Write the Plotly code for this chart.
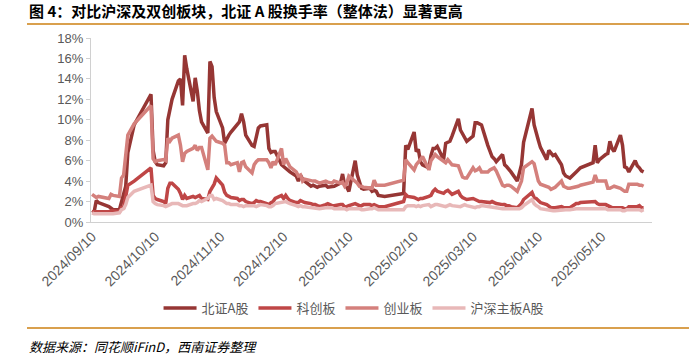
import plotly.graph_objects as go

# ---- trading days (month -> day numbers) ----
sep_days = [10, 11, 12, 13, 18, 19, 20, 23, 24, 25, 26, 27, 30]
oct_days = [8, 9, 10, 11, 14, 15, 16, 17, 18, 21, 22, 23, 24, 25, 28, 29, 30, 31]
nov_days = [1, 4, 5, 6, 7, 8, 11, 12, 13, 14, 15, 18, 19, 20, 21, 22, 25, 26, 27, 28, 29]
dec_days = [2, 3, 4, 5, 6, 9, 10, 11, 12, 13, 16, 17, 18, 19, 20, 23, 24, 25, 26, 27, 30, 31]
jan_days = [2, 3, 6, 7, 8, 9, 10, 13, 14, 15, 16, 17, 20, 21, 22, 23, 24, 27]
feb_days = [5, 6, 7, 10, 11, 12, 13, 14, 17, 18, 19, 20, 21, 24, 25, 26, 27, 28]
mar_days = [3, 4, 5, 6, 7, 10, 11, 12, 13, 14, 17, 18, 19, 20, 21, 24, 25, 26, 27, 28, 31]
apr_days = [1, 2, 3, 7, 8, 9, 10, 11, 14, 15, 16, 17, 18, 21, 22, 23, 24, 25, 28, 29, 30]
may_days = [6, 7, 8, 9, 12, 13, 14, 15, 16, 19, 20, 21, 22, 23, 26, 27, 28, 29, 30]

months = [("2024-09", sep_days), ("2024-10", oct_days), ("2024-11", nov_days),
          ("2024-12", dec_days), ("2025-01", jan_days), ("2025-02", feb_days),
          ("2025-03", mar_days), ("2025-04", apr_days), ("2025-05", may_days)]
dates = [f"{ym}-{d:02d}" for ym, days in months for d in days]

# ---- turnover rate (%) ----
bse_a = [
    0.9, 1.0, 2.1, 1.9, 1.5, 1.3, 1.2, 1.2, 2.0, 2.5, 3.5, 6.8, 9.5,
    12.5, 7.0, 5.9, 5.6, 5.5, 5.8, 10.0, 11.0, 12.0, 13.8, 14.0, 11.4, 16.3, 15.0, 11.8, 14.1, 12.8, 10.9,
    9.8, 8.7, 15.7, 15.2, 12.2, 10.8, 9.2, 7.7, 8.2, 8.5, 8.8, 9.5, 9.8, 10.6, 9.8, 8.5, 7.5, 7.4, 8.5, 9.2, 9.4,
    9.5, 7.2, 6.8, 6.9, 6.9, 5.6, 5.4, 5.3, 5.0, 4.9, 4.5, 4.0, 4.6, 4.2, 4.0, 3.5, 3.6, 3.5, 3.4, 3.5, 3.6, 3.4,
    3.5, 3.5, 3.8, 4.7, 3.6, 3.4, 3.0, 6.0, 4.6, 3.8, 3.3, 3.2, 3.3, 3.0, 3.1, 3.0, 2.6, 2.5,
    2.8, 7.5, 7.1, 8.8, 6.9, 7.1, 5.9, 5.6, 5.3, 6.5, 7.2, 7.2, 7.4, 6.1, 7.7, 7.8, 7.9, 8.4,
    10.1, 9.0, 8.6, 8.2, 7.9, 8.4, 9.7, 9.7, 9.6, 9.5, 7.5, 7.0, 6.4, 6.2, 5.9, 6.6, 5.6, 5.4, 5.2, 4.9, 4.0,
    4.8, 5.6, 7.8, 11.1, 9.5, 8.6, 8.0, 7.3, 6.1, 7.0, 6.8, 6.5, 6.6, 5.6, 4.8, 4.5, 4.4, 4.3, 4.9, 5.1, 5.3,
    5.8, 7.5, 5.8, 6.1, 6.6, 6.7, 7.9, 7.2, 6.9, 8.5, 7.5, 5.4, 5.3, 4.9, 6.0, 5.5, 5.3, 5.0, 4.9,
]
star = [
    1.0, 1.0, 1.0, 1.0, 1.0, 1.1, 1.1, 1.0, 1.4, 1.4, 2.5, 3.6, 4.0,
    5.3, 2.6, 2.3, 2.2, 2.0, 1.8, 3.3, 3.8, 3.8, 3.2, 2.8, 2.2, 2.6, 2.3, 2.5, 2.4, 2.5, 2.6,
    2.3, 2.2, 3.0, 3.3, 3.7, 4.3, 3.6, 2.9, 2.6, 2.5, 2.4, 2.3, 2.1, 2.2, 2.2, 2.0, 1.8, 1.9, 2.1, 2.0, 2.0,
    1.8, 1.7, 1.9, 2.0, 2.3, 2.6, 2.3, 2.6, 2.3, 2.1, 1.9, 1.9, 2.1, 2.0, 1.9, 1.8, 1.7, 1.7, 1.6, 1.5, 1.7, 1.8,
    1.6, 1.6, 1.7, 1.7, 1.5, 1.5, 1.6, 1.8, 1.7, 1.6, 1.6, 1.7, 1.7, 1.6, 1.7, 1.6, 1.5, 1.5,
    2.0, 2.7, 2.5, 2.4, 2.3, 2.2, 2.3, 2.3, 2.5, 2.6, 3.0, 3.2, 3.0, 2.8, 3.0, 3.1, 2.9, 2.7,
    3.0, 2.6, 2.4, 2.3, 2.2, 2.3, 2.2, 2.1, 2.0, 2.0, 1.9, 1.9, 2.0, 1.9, 1.8, 1.7, 1.7, 1.6, 1.6, 1.5, 1.4,
    1.6, 1.8, 2.2, 2.9, 2.4, 2.3, 2.1, 1.9, 1.7, 1.5, 1.4, 1.4, 1.4, 1.5, 1.4, 1.4, 1.4, 1.4, 1.8, 1.8, 1.9,
    2.0, 2.0, 1.8, 1.7, 1.7, 1.6, 1.5, 1.4, 1.4, 1.4, 1.4, 1.3, 1.3, 1.5, 1.5, 1.5, 1.6, 1.4, 1.4,
]
chinext = [
    2.7, 2.5, 2.4, 2.5, 2.3, 2.7, 2.6, 2.5, 4.3, 4.6, 6.5, 8.5, 9.6,
    11.4, 6.2, 5.9, 6.0, 6.1, 6.0, 8.2, 7.9, 8.2, 8.5, 7.5, 5.9, 6.7, 6.9, 7.2, 7.5, 7.0, 7.3,
    7.3, 5.1, 8.2, 8.4, 8.2, 7.9, 7.7, 7.5, 5.8, 5.8, 5.6, 5.8, 4.9, 5.8, 5.9, 5.4, 4.8, 5.6, 5.9, 6.1, 6.1,
    6.1, 5.8, 5.3, 5.9, 5.6, 7.2, 5.6, 6.2, 5.8, 5.4, 4.9, 4.5, 4.6, 4.0, 4.2, 4.0, 4.0, 4.0, 3.9, 3.8, 4.0, 3.9,
    3.8, 4.0, 3.8, 3.9, 3.5, 3.8, 4.5, 4.0, 3.8, 3.5, 3.5, 3.4, 3.3, 3.3, 4.1, 3.6, 3.6, 3.6,
    4.1, 6.1, 5.8, 5.1, 5.6, 5.8, 6.1, 6.4, 5.1, 6.0, 6.3, 6.6, 6.4, 5.9, 5.8, 6.1, 5.9, 5.6,
    5.5, 4.8, 4.4, 4.3, 4.3, 5.3, 5.0, 5.1, 5.3, 4.9, 4.9, 5.1, 5.2, 5.3, 5.0, 3.6, 3.5, 3.6, 3.6, 3.5, 3.0,
    3.5, 4.0, 5.3, 5.9, 5.7, 4.8, 4.0, 3.7, 3.5, 3.4, 3.2, 3.3, 3.4, 4.0, 3.5, 3.4, 3.3, 3.3, 3.4, 3.5, 3.6,
    3.9, 4.6, 4.0, 4.0, 4.0, 3.3, 3.3, 3.4, 3.5, 3.3, 3.1, 3.0, 3.0, 3.7, 3.7, 3.7, 3.6, 3.6, 3.5,
]
main_board = [
    0.9, 0.8, 0.8, 0.8, 0.8, 0.8, 0.8, 0.9, 1.2, 1.3, 1.7, 2.4, 3.0,
    3.6, 2.0, 1.8, 1.7, 1.6, 1.5, 1.6, 1.7, 1.8, 1.8, 1.7, 1.6, 1.6, 1.6, 1.8, 1.8, 1.9, 2.1,
    2.0, 2.3, 2.6, 2.6, 2.2, 2.3, 2.1, 1.9, 1.8, 1.8, 1.7, 1.7, 1.6, 1.6, 1.5, 1.6, 1.6, 1.6, 1.5, 1.6, 1.7,
    1.6, 1.5, 1.5, 1.6, 1.8, 1.9, 2.0, 2.0, 1.9, 1.8, 1.6, 1.5, 1.6, 1.5, 1.5, 1.4, 1.4, 1.4, 1.3, 1.3, 1.4, 1.4,
    1.4, 1.3, 1.3, 1.3, 1.3, 1.2, 1.3, 1.3, 1.3, 1.3, 1.2, 1.2, 1.3, 1.3, 1.4, 1.3, 1.2, 1.2,
    1.2, 1.5, 1.6, 1.6, 1.5, 1.6, 1.5, 1.6, 1.7, 1.5, 1.6, 1.7, 1.7, 1.6, 1.5, 1.6, 1.7, 1.6,
    1.5, 1.5, 1.6, 1.7, 1.6, 1.5, 1.4, 1.5, 1.5, 1.6, 1.5, 1.5, 1.4, 1.4, 1.4, 1.3, 1.3, 1.3, 1.3, 1.3, 1.3,
    1.3, 1.4, 1.6, 2.2, 1.8, 1.6, 1.5, 1.3, 1.2, 1.1, 1.1, 1.1, 1.1, 1.2, 1.2, 1.2, 1.2, 1.2, 1.3, 1.3, 1.3,
    1.3, 1.3, 1.3, 1.3, 1.3, 1.2, 1.2, 1.2, 1.2, 1.2, 1.1, 1.1, 1.2, 1.2, 1.2, 1.2, 1.2, 1.1, 1.2,
]

series_names = ["北证A股", "科创板", "创业板", "沪深主板A股"]
series_colors = ["#963634", "#bf4646", "#d4807c", "#e8b8b8"]
series_values = [bse_a, star, chinext, main_board]

tick_dates = ["2024-09-10", "2024-10-10", "2024-11-10", "2024-12-10", "2025-01-10",
              "2025-02-10", "2025-03-10", "2025-04-10", "2025-05-10"]
tick_labels = ["2024/09/10", "2024/10/10", "2024/11/10", "2024/12/10", "2025/01/10",
               "2025/02/10", "2025/03/10", "2025/04/10", "2025/05/10"]
y_ticks = [0, 2, 4, 6, 8, 10, 12, 14, 16, 18]

title_text = "图 4：对比沪深及双创板块，北证 A 股换手率（整体法）显著更高"
source_text = "数据来源：同花顺iFinD，西南证券整理"

for v in series_values:
    assert len(v) == len(dates), (len(v), len(dates))

W, H = 691, 357
L, R, T, B = 91, 39, 38, 135
pw, ph = W - L - R, H - T - B

def px_x(p):
    return (p - L) / pw

def px_y(p):
    return (H - B - p) / ph

CJK = "Noto Sans CJK SC, Liberation Sans, sans-serif"
LAT = "Liberation Sans, Arial, sans-serif"

fig = go.Figure()
for name, color, vals in zip(series_names, series_colors, series_values):
    fig.add_trace(go.Scatter(x=dates, y=vals, name=name, mode="lines",
                             line=dict(color=color, width=3.5)))

fig.update_layout(
    width=W, height=H,
    margin=dict(l=L, r=R, t=T, b=B, autoexpand=False),
    paper_bgcolor="white", plot_bgcolor="white",
    showlegend=True,
    legend=dict(orientation="h", x=0.468, xanchor="center", y=px_y(308), yanchor="middle",
                font=dict(family=CJK, size=13, color="#595959"),
                itemwidth=33, tracegroupgap=0, bgcolor="rgba(0,0,0,0)"),
    xaxis=dict(type="date", range=["2024-09-09 12:00", "2025-06-03 00:00"],
               tickmode="array", tickvals=tick_dates, ticktext=tick_labels,
               tickangle=-45, tickfont=dict(family=LAT, size=14, color="#595959"),
               showline=True, linecolor="#d0d0d0", linewidth=1,
               showgrid=False, zeroline=False, ticks=""),
    yaxis=dict(range=[0, 18], tickmode="array", tickvals=y_ticks,
               ticktext=[f"{t}%" for t in y_ticks],
               tickfont=dict(family=LAT, size=13, color="#595959"),
               showline=True, linecolor="#d0d0d0", linewidth=1,
               ticks="outside", ticklen=4, tickcolor="#d0d0d0",
               showgrid=False, zeroline=False),
)

gold = "#d9a04e"
fig.add_shape(type="line", xref="paper", yref="paper",
              x0=px_x(27), x1=px_x(689), y0=px_y(24), y1=px_y(24),
              line=dict(color=gold, width=2))
fig.add_shape(type="line", xref="paper", yref="paper",
              x0=px_x(27), x1=px_x(689), y0=px_y(328), y1=px_y(328),
              line=dict(color=gold, width=2))

fig.add_annotation(text=f"<b>{title_text}</b>", xref="paper", yref="paper",
                   x=px_x(27), y=px_y(10), xanchor="left", yanchor="middle",
                   showarrow=False, font=dict(family=CJK, size=15, color="#000000"))
fig.add_annotation(text=f"<i>{source_text}</i>", xref="paper", yref="paper",
                   x=px_x(27), y=px_y(346), xanchor="left", yanchor="middle",
                   showarrow=False, font=dict(family=CJK, size=13, color="#000000"))

fig.write_html("out.html", config={"displayModeBar": False, "staticPlot": True})

# remove the browser's default page margin so the figure sits at the top-left corner
with open("out.html", "r", encoding="utf-8") as f:
    html = f.read()
html = html.replace("<head>", "<head><style>html,body{margin:0;padding:0;overflow:hidden;}</style>", 1)
with open("out.html", "w", encoding="utf-8") as f:
    f.write(html)
